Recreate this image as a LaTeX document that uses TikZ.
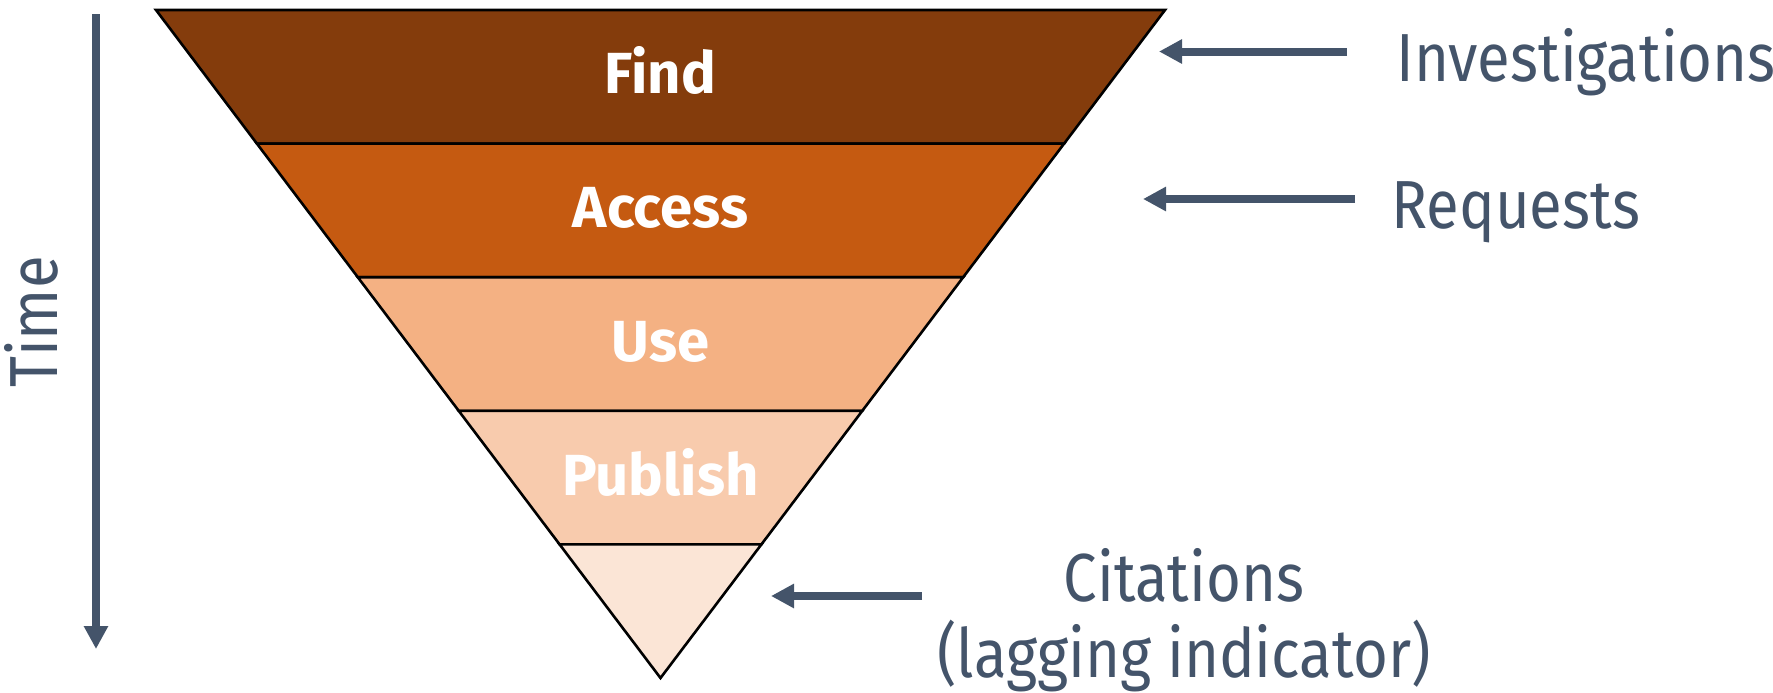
\documentclass[tikz,border=0pt]{standalone}
\usepackage{fontspec}
\setmainfont{Fira Sans}[FakeStretch=0.88, BoldFeatures={FakeStretch=1.0}]
\usepackage{xcolor}
\usetikzlibrary{arrows.meta,calc,positioning}

\definecolor{slate}{HTML}{44546A}
\definecolor{layerA}{HTML}{843C0C}
\definecolor{layerB}{HTML}{C55A11}
\definecolor{layerC}{HTML}{F4B183}
\definecolor{layerD}{HTML}{F8CBAD}
\definecolor{layerE}{HTML}{FBE5D6}

\tikzset{
	layer/.style={draw=black, line width=1.3pt, line join=miter},
	stage/.style={text=white, font=\fontsize{29}{34}\selectfont\bfseries, anchor=base, inner sep=0pt},
	metric/.style={text=slate, font=\fontsize{34}{38}\selectfont, anchor=base west, inner sep=0pt},
	pointer/.style={draw=slate, line width=4pt, -{Triangle[width=11.5pt,length=11.5pt]}},
}

\begin{document}
\begin{tikzpicture}[x=0.5pt,y=-0.5pt]
			\useasboundingbox (0,0) rectangle (1773,692);
			% funnel corners
			\coordinate (apex) at (660.5,678);
			\coordinate (tl) at (156,10);
			\coordinate (tr) at (1165,10);

			\foreach \col [count=\i from 0] in {layerA,layerB,layerC,layerD,layerE} {
				\pgfmathsetmacro{\ftop}{(5-\i)/5}
				\pgfmathsetmacro{\fbot}{(4-\i)/5}
				\filldraw[layer, fill=\col] ($(apex)!\ftop!(tl)$) -- ($(apex)!\ftop!(tr)$)
					-- ($(apex)!\fbot!(tr)$) -- ($(apex)!\fbot!(tl)$) -- cycle;
			}

			% stage names
			\foreach \name [count=\i from 0] in {Find,Access,Use,Publish} {
				\node[stage] (stage\i) at (660.5,{93+134*\i}) {\name};
			}

			% measures
			\node[metric] (inv) at (1396,81) {Investigations};
			\node[metric] (req) at (1391,228) {Requests};
			\node[metric, anchor=base] (cit) at (1184,601) {Citations};
			\node[metric, anchor=base] (lag) at (1184,677) {(lagging indicator)};
			\node[metric, anchor=base, rotate=90] (time) at (57,322) {Time};

			\coordinate (invTail) at (1347,51.5);
			\coordinate (invTip) at (1159,51.5);
			\coordinate (reqTail) at (1355,199);
			\coordinate (reqTip) at (1143,199);
			\coordinate (citTail) at (922,596);
			\coordinate (citTip) at (771,596);
			\coordinate (timeTop) at (96,14);
			\coordinate (timeEnd) at (96,649);

			\draw[pointer] (invTail) -- (invTip);
			\draw[pointer] (reqTail) -- (reqTip);
			\draw[pointer] (citTail) -- (citTip);
			\draw[pointer] (timeTop) -- (timeEnd);

		\end{tikzpicture}
\end{document}
